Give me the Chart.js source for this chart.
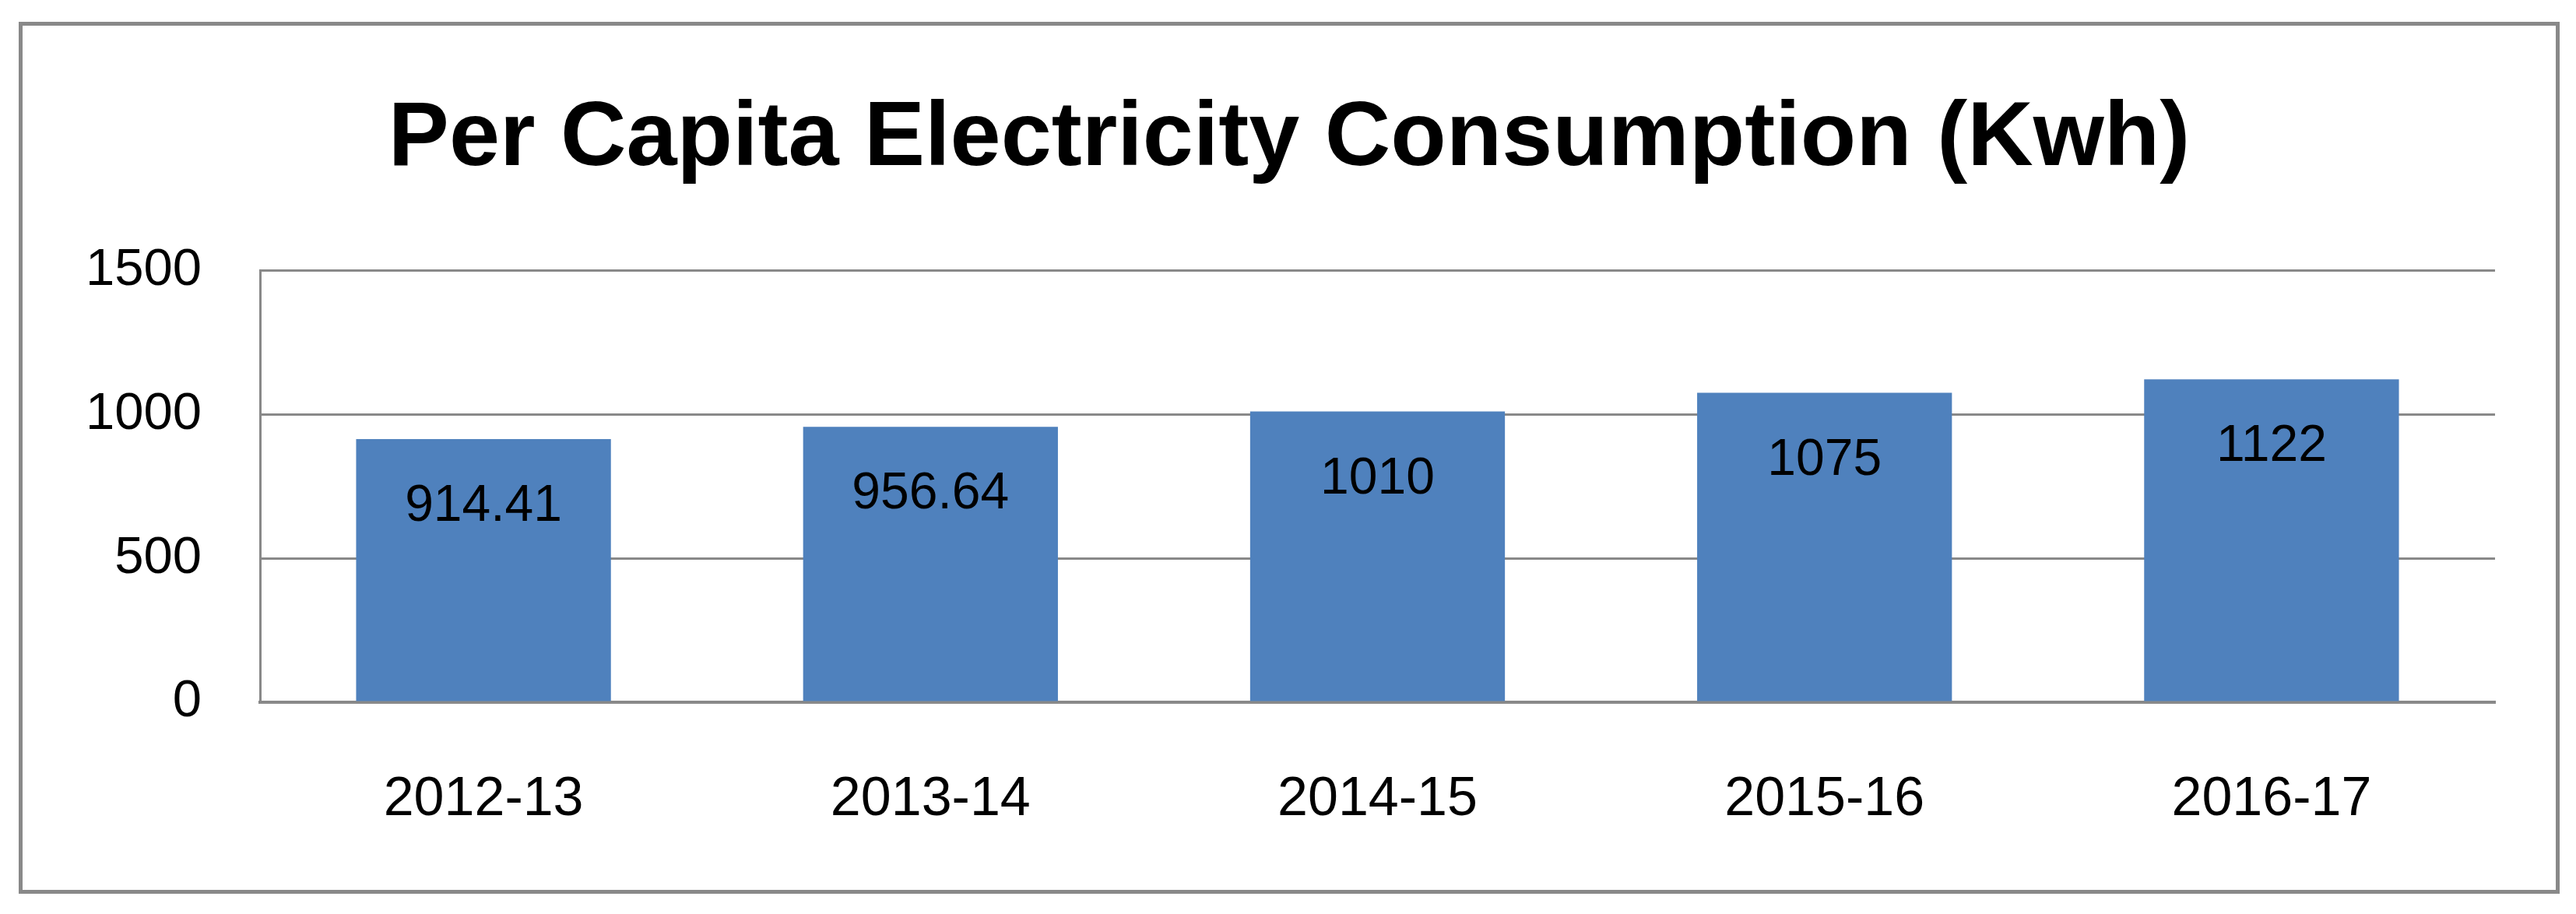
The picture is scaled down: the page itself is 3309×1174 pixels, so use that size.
<!DOCTYPE html>
<html>
<head>
<meta charset="utf-8">
<script src="https://cdn.jsdelivr.net/npm/chart.js@4"></script>
<style>
  body { margin: 0; background: #fff; }
  #box {
    position: absolute; left: 24px; top: 28px;
    width: 3254px; height: 1110px;
    border: 5px solid #898989;
  }
</style>
</head>
<body>
<div id="box"><canvas id="myChart"></canvas></div>
<script>
let labels = ['2012-13', '2013-14', '2014-15', '2015-16', '2016-17'];
let values = [914.41, 956.64, 1010, 1075, 1122];
let valueText = ['914.41', '956.64', '1010', '1075', '1122'];
let yTicks = [0, 500, 1000, 1500];

// value labels drawn inside the top of each bar
let barLabels = {
  id: 'barLabels',
  afterDatasetsDraw(chart) {
    let ctx = chart.ctx;
    let meta = chart.getDatasetMeta(0);
    ctx.save();
    ctx.font = '66px "Liberation Sans", Arial, sans-serif';
    ctx.fillStyle = '#000';
    ctx.textAlign = 'center';
    ctx.textBaseline = 'alphabetic';
    meta.data.forEach((bar, i) => {
      ctx.fillText(valueText[i], bar.x, bar.y + 105);
    });
    ctx.restore();
  }
};

let ctx = document.getElementById('myChart').getContext('2d');
let myChart = new Chart(ctx, {
  type: 'bar',
  data: {
    labels: labels,
    datasets: [{
      data: values,
      backgroundColor: '#4F81BD',
      barPercentage: 0.57,
      categoryPercentage: 1
    }]
  },
  options: {
    responsive: true,
    maintainAspectRatio: false,
    animation: false,
    layout: { padding: { left: 78, right: 78, top: 0, bottom: 0 } },
    plugins: {
      legend: { display: false },
      tooltip: { enabled: false },
      title: {
        display: true,
        text: 'Per Capita Electricity Consumption (Kwh)',
        color: '#000',
        font: { family: '"Liberation Sans", Arial, sans-serif', size: 117, weight: 'bold', lineHeight: 1.2 },
        padding: { top: 77, bottom: 97 }
      }
    },
    scales: {
      x: {
        grid: { display: false },
        border: { display: true, color: '#898989', width: 4 },
        ticks: {
          color: '#000',
          padding: 76,
          font: { family: '"Liberation Sans", Arial, sans-serif', size: 70 }
        },
        afterFit: (scale) => { scale.height = 241; }
      },
      y: {
        min: 0,
        max: 1500,
        afterBuildTicks: (scale) => { scale.ticks = yTicks.map(v => ({ value: v })); },
        grid: { color: '#898989', lineWidth: 3, drawTicks: false },
        border: { display: true, color: '#898989', width: 3 },
        ticks: {
          color: '#000',
          padding: 75,
          font: { family: '"Liberation Sans", Arial, sans-serif', size: 67 },
          callback: (v) => String(v)
        },
        afterFit: (scale) => { scale.width = 227; }
      }
    }
  },
  plugins: [barLabels]
});
</script>
</body>
</html>
